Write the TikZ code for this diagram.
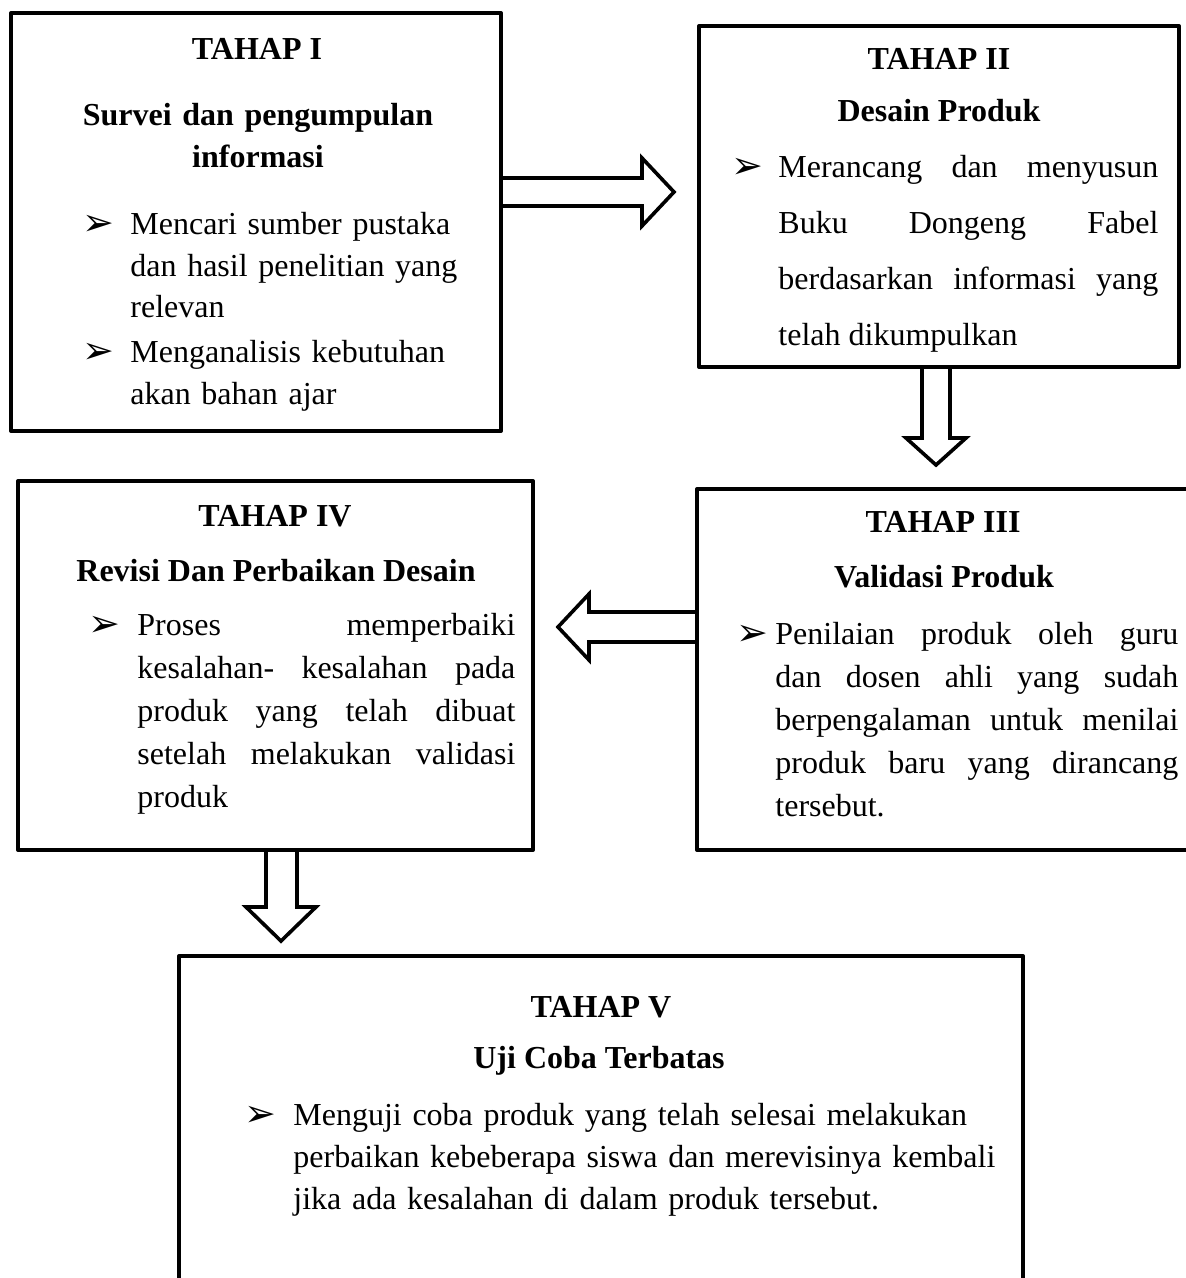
\documentclass[tikz,border=0pt]{standalone}
\usepackage{fontspec}
\setmainfont{Liberation Serif}
\newfontfamily\bulletfont{DejaVu Sans}
\usetikzlibrary{calc}

\newcommand{\poinpanah}{{\bulletfont\fontsize{19}{19}\selectfont ➢}}

\begin{document}
\begin{tikzpicture}[x=0.5pt,y=-0.5pt,
    tahap/.style={draw, line width=2pt, inner sep=0pt, line join=round},
    judul/.style={font=\fontsize{16}{21}\selectfont\bfseries, anchor=base, inner sep=0pt, align=center},
    isi/.style={anchor=base west, inner sep=0pt},
    poin/.style={anchor=base west, inner sep=0pt},
    panah/.style={line width=1.8pt, line join=miter}]

    % Canvas
    \clip (0,0) rectangle (1186,1278);
    \fill[white] (0,0) rectangle (1186,1278);

    % Boxes
    \node[tahap, minimum width=245pt, minimum height=209pt] (t1) at (256,222) {};
    \node[tahap, minimum width=240pt, minimum height=170.5pt] (t2) at (939,196.5) {};
    \node[tahap, minimum width=256.5pt, minimum height=180.5pt] (t3) at (953.5,669.5) {};
    \node[tahap, minimum width=257.5pt, minimum height=184.5pt] (t4) at (275.5,665.5) {};
    \node[tahap, minimum width=422pt, minimum height=177pt] (t5) at (601,1133) {};

    % Tahap I
    \node[judul] (j1) at (257,60) {TAHAP I};
    \node[judul, text width=210pt] (s1) at (258,126) {Survei dan pengumpulan\\informasi};
    \node[poin] (p1a) at (82,236) {\poinpanah};
    \node[isi, font=\fontsize{16}{20.75}\selectfont, text width=170pt, align=left] (i1a) at (130,235)
      {Mencari sumber pustaka\\dan hasil penelitian yang\\relevan};
    \node[poin] (p1b) at (82,364) {\poinpanah};
    \node[isi, font=\fontsize{16}{20.75}\selectfont, text width=170pt, align=left] (i1b) at (130,363)
      {Menganalisis kebutuhan\\akan bahan ajar};

    % Tahap II
    \node[judul] (j2) at (939,70) {TAHAP II};
    \node[judul] (s2) at (939,122) {Desain Produk};
    \node[poin] (p2) at (731,179) {\poinpanah};
    \node[isi, font=\fontsize{16}{28}\selectfont, text width=190pt, align=justify] (i2) at (778,178)
      {Merancang dan menyusun\linebreak Buku Dongeng Fabel\linebreak berdasarkan informasi yang\linebreak telah dikumpulkan};

    % Tahap III
    \node[judul] (j3) at (943,532) {TAHAP III};
    \node[judul] (s3) at (944,587) {Validasi Produk};
    \node[poin] (p3) at (736,645) {\poinpanah};
    \node[isi, font=\fontsize{16}{21.5}\selectfont, text width=201.5pt, align=justify] (i3) at (775,644)
      {Penilaian produk oleh guru\linebreak dan dosen ahli yang sudah\linebreak berpengalaman untuk menilai\linebreak produk baru yang dirancang\linebreak tersebut.};

    % Tahap IV
    \node[judul] (j4) at (275,526) {TAHAP IV};
    \node[judul] (s4) at (276,581) {Revisi Dan Perbaikan Desain};
    \node[poin] (p4) at (88,636) {\poinpanah};
    \node[isi, font=\fontsize{16}{21.5}\selectfont, text width=189pt, align=justify] (i4) at (137,635)
      {Proses memperbaiki\linebreak kesalahan- kesalahan pada\linebreak produk yang telah dibuat\linebreak setelah melakukan validasi\linebreak produk};

    % Tahap V
    \node[judul] (j5) at (601,1017) {TAHAP V};
    \node[judul] (s5) at (599,1068) {Uji Coba Terbatas};
    \node[poin] (p5) at (244,1126) {\poinpanah};
    \node[isi, font=\fontsize{16}{21}\selectfont, text width=360pt, align=left] (i5) at (293,1125)
      {Menguji coba produk yang telah selesai melakukan\\perbaikan kebeberapa siswa dan merevisinya kembali\\jika ada kesalahan di dalam produk tersebut.};

    % Block arrows between the stages
    \draw[panah] ($(t1.north east)+(0,167)$) -- ++(139,0) -- ++(0,-20) -- ++(32,34)
      -- ++(-32,34) -- ++(0,-20) -- ++(-139,0);
    \draw[panah] ($(t2.south west)+(225,0)$) -- ++(0,69) -- ++(-16,0) -- ++(30,27)
      -- ++(30,-27) -- ++(-16,0) -- ++(0,-69);
    \draw[panah] ($(t3.north west)+(0,125)$) -- ++(-106,0) -- ++(0,-18) -- ++(-31,33)
      -- ++(31,33) -- ++(0,-18) -- ++(106,0);
    \draw[panah] ($(t4.south west)+(250,0)$) -- ++(0,55) -- ++(-20,0) -- ++(35,34)
      -- ++(35,-34) -- ++(-19,0) -- ++(0,-55);
\end{tikzpicture}
\end{document}
